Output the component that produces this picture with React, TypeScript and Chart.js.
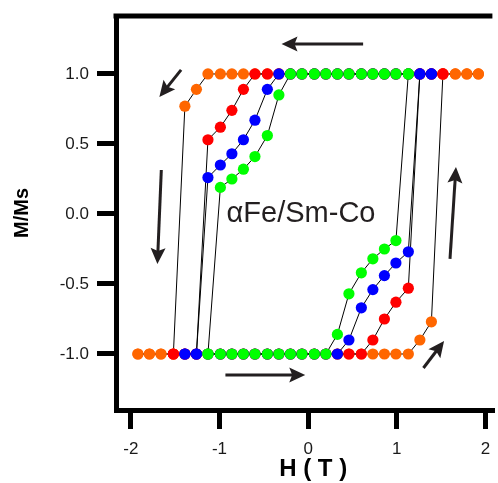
import React, { useEffect, useRef } from 'react';
import { Chart, registerables } from 'chart.js';

Chart.register(...registerables);

// Applied field values (T) shared by all loops
const H_FIELD = [
  -1.92, -1.79, -1.66, -1.52, -1.39, -1.26, -1.13, -0.99, -0.86, -0.73,
  -0.6, -0.46, -0.33, -0.2, -0.07, 0.07, 0.2, 0.33, 0.46, 0.6,
  0.73, 0.86, 0.99, 1.13, 1.26, 1.39, 1.52, 1.66, 1.79, 1.92,
];

// M/Ms per field index: descending branch (down) and ascending branch (up)
const ORANGE_DOWN = [
  -1, -1, -1, -1, 0.77, 0.89, 1, 1, 1, 1,
  1, 1, 1, 1, 1, 1, 1, 1, 1, 1,
  1, 1, 1, 1, 1, 1, 1, 1, 1, 1,
];
const ORANGE_UP = [
  -1, -1, -1, -1, -1, -1, -1, -1, -1, -1,
  -1, -1, -1, -1, -1, -1, -1, -1, -1, -1,
  -1, -1, -1, -1, -0.9, -0.77, 1, 1, 1, 1,
];
const RED_DOWN = [
  null, null, null, -1, -1, -1, 0.53, 0.62, 0.74, 0.89,
  1, 1, 1, 1, 1, 1, 1, 1, 1, 1,
  1, 1, 1, 1, 1, 1, 1, null, null, null,
];
const RED_UP = [
  null, null, null, -1, -1, -1, -1, -1, -1, -1,
  -1, -1, -1, -1, -1, -1, -1, -1, -1, -1,
  -0.9, -0.75, -0.63, -0.53, 1, 1, 1, null, null, null,
];
const BLUE_DOWN = [
  null, null, null, null, -1, -1, 0.26, 0.35, 0.43, 0.53,
  0.67, 0.89, 1, 1, 1, 1, 1, 1, 1, 1,
  1, 1, 1, 1, 1, 1, null, null, null, null,
];
const BLUE_UP = [
  null, null, null, null, -1, -1, -1, -1, -1, -1,
  -1, -1, -1, -1, -1, -1, -1, -1, -0.9, -0.67,
  -0.54, -0.44, -0.35, -0.27, 1, 1, null, null, null, null,
];
const GREEN_DOWN = [
  null, null, null, null, null, null, -1, 0.19, 0.25, 0.32,
  0.41, 0.56, 0.85, 1, 1, 1, 1, 1, 1, 1,
  1, 1, 1, 1, null, null, null, null, null, null,
];
const GREEN_UP = [
  null, null, null, null, null, null, -1, -1, -1, -1,
  -1, -1, -1, -1, -1, -1, -1, -0.86, -0.57, -0.42,
  -0.32, -0.25, -0.19, 1, null, null, null, null, null, null,
];

const X_TICKS = [-2, -1, 0, 1, 2];
const Y_TICKS = [-1, -0.5, 0, 0.5, 1];
const X_TITLE = 'H ( T )';
const Y_TITLE = 'M/Ms';
const SAMPLE_LABEL = 'αFe/Sm-Co';
const SAMPLE_LABEL_AT = [-0.92, -0.057];

// sweep-direction arrows, in data units: [fromH, fromM, toH, toM]
const ARROWS = [
  [0.62, 1.214, -0.3, 1.214],
  [-1.433, 1.029, -1.678, 0.836],
  [-1.656, 0.314, -1.7, -0.357],
  [-0.933, -1.15, -0.033, -1.15],
  [1.3, -1.1, 1.533, -0.907],
  [1.6, -0.321, 1.667, 0.336],
];

const FONT = '"Liberation Sans", Arial, Helvetica, sans-serif';
const ARROW_COLOR = '#231f20';

function loopPoints(down: (number | null)[], up: (number | null)[]) {
  const pts: { x: number; y: number }[] = [];
  for (let i = H_FIELD.length - 1; i >= 0; i--) {
    const m = down[i];
    if (m !== null) pts.push({ x: H_FIELD[i], y: m });
  }
  for (let i = 0; i < H_FIELD.length; i++) {
    const m = up[i];
    if (m !== null) pts.push({ x: H_FIELD[i], y: m });
  }
  return pts;
}

function drawArrow(ctx: CanvasRenderingContext2D, x0: number, y0: number, x1: number, y1: number) {
  const dx = x1 - x0;
  const dy = y1 - y0;
  const len = Math.hypot(dx, dy);
  const ux = dx / len;
  const uy = dy / len;
  const headLen = 16;
  const headHalf = 7.5;
  const bx = x1 - ux * headLen;
  const by = y1 - uy * headLen;
  ctx.beginPath();
  ctx.moveTo(x0, y0);
  ctx.lineTo(bx + ux * 4, by + uy * 4);
  ctx.lineWidth = 3;
  ctx.strokeStyle = ARROW_COLOR;
  ctx.stroke();
  ctx.beginPath();
  ctx.moveTo(x1, y1);
  ctx.lineTo(bx - uy * headHalf, by + ux * headHalf);
  ctx.lineTo(bx + ux * 3, by + uy * 3);
  ctx.lineTo(bx + uy * headHalf, by - ux * headHalf);
  ctx.closePath();
  ctx.fillStyle = ARROW_COLOR;
  ctx.fill();
}

const notesPlugin = {
  id: 'notes',
  afterDatasetsDraw(chart: any) {
    const { ctx, chartArea, scales } = chart;
    const xs = scales.x;
    const ys = scales.y;
    ctx.save();
    ctx.fillStyle = '#000';
    ctx.fillRect(chartArea.left - 2.5, chartArea.top - 2.5, chartArea.right - chartArea.left + 2.5, 5);
    for (const a of ARROWS) {
      drawArrow(
        ctx,
        xs.getPixelForValue(a[0]),
        ys.getPixelForValue(a[1]),
        xs.getPixelForValue(a[2]),
        ys.getPixelForValue(a[3])
      );
    }
    ctx.font = '29px ' + FONT;
    ctx.fillStyle = ARROW_COLOR;
    ctx.textAlign = 'left';
    ctx.textBaseline = 'alphabetic';
    ctx.fillText(SAMPLE_LABEL, xs.getPixelForValue(SAMPLE_LABEL_AT[0]), ys.getPixelForValue(SAMPLE_LABEL_AT[1]));
    // x-axis title
    ctx.font = 'bold 24px ' + FONT;
    ctx.fillStyle = '#000';
    ctx.textAlign = 'center';
    ctx.textBaseline = 'middle';
    ctx.fillText(X_TITLE, xs.getPixelForValue(0) + 5, xs.bottom - 14);
    ctx.restore();
  },
};

function series(data: { x: number; y: number }[], color: string) {
  return {
    data,
    showLine: true,
    borderColor: '#000',
    borderWidth: 1,
    pointRadius: 5.6,
    pointBorderWidth: 0,
    pointBackgroundColor: color,
    pointBorderColor: color,
  };
}

export default function App() {
  const ref = useRef<HTMLCanvasElement | null>(null);

  useEffect(() => {
    if (!ref.current) return;
    const chart = new Chart(ref.current, {
      type: 'scatter',
      data: {
        datasets: [
          series(loopPoints(GREEN_DOWN, GREEN_UP), '#00ff00'),
          series(loopPoints(BLUE_DOWN, BLUE_UP), '#0000ff'),
          series(loopPoints(RED_DOWN, RED_UP), '#ff0000'),
          series(loopPoints(ORANGE_DOWN, ORANGE_UP), '#ff6600'),
        ] as any,
      },
      options: {
        animation: false,
        responsive: false,
        devicePixelRatio: 1,
        layout: { padding: { top: 16, left: 0, right: 0, bottom: 0 } },
        plugins: { legend: { display: false }, tooltip: { enabled: false } },
        scales: {
          x: {
            type: 'linear',
            min: -2.167,
            max: 2.078,
            afterBuildTicks: (s: any) => {
              s.ticks = X_TICKS.map((v) => ({ value: v }));
            },
            afterFit: (s: any) => {
              s.height = 73;
              s.paddingLeft = 0;
              s.paddingRight = 0;
            },
            border: { display: true, width: 5, color: '#000' },
            grid: { display: true, drawOnChartArea: false, drawTicks: true, tickLength: 19, lineWidth: 5, color: '#000' },
            ticks: {
              padding: 10,
              color: '#1a1a1a',
              font: { family: FONT, size: 17 },
              maxRotation: 0,
              callback: (v: any) => String(v),
            },
            title: { display: false },
          },
          y: {
            type: 'linear',
            min: -1.4,
            max: 1.414,
            afterBuildTicks: (s: any) => {
              s.ticks = Y_TICKS.map((v) => ({ value: v }));
            },
            afterFit: (s: any) => {
              s.width = 116;
              s.paddingTop = 0;
              s.paddingBottom = 0;
            },
            border: { display: true, width: 5, color: '#000' },
            grid: { display: true, drawOnChartArea: false, drawTicks: true, tickLength: 19, lineWidth: 5, color: '#000' },
            ticks: {
              padding: 8,
              color: '#1a1a1a',
              font: { family: FONT, size: 17 },
              callback: (v: any) => Number(v).toFixed(1),
            },
            title: {
              display: true,
              text: Y_TITLE,
              color: '#000',
              font: { family: FONT, size: 20, weight: 'bold' },
              padding: { top: 10, bottom: 0 },
            },
          },
        },
      } as any,
      plugins: [notesPlugin],
    });
    return () => chart.destroy();
  }, []);

  return (
    <div style={{ position: 'absolute', left: 0, top: 0, width: 498, height: 483, overflow: 'hidden' }}>
      <canvas ref={ref} width={498} height={483} style={{ display: 'block', width: 498, height: 483 }} />
    </div>
  );
}
